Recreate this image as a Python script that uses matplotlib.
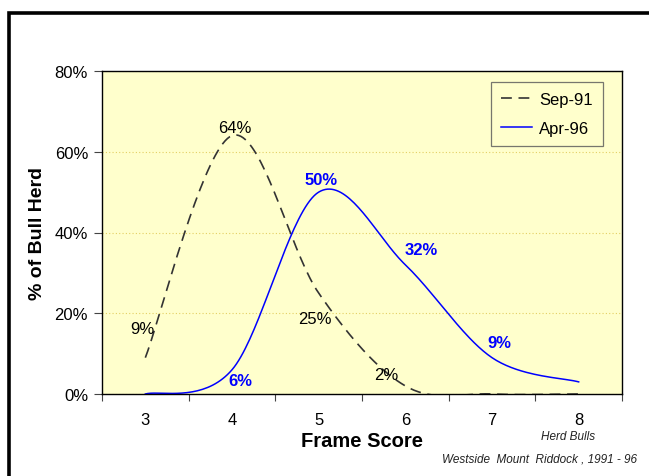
import numpy as np
import matplotlib
matplotlib.use('Agg')
import matplotlib.pyplot as plt
from matplotlib.patches import Rectangle

plt.rcParams['font.family'] = ['Liberation Sans', 'DejaVu Sans']

# chart data
frame_scores = [3, 4, 5, 6, 7, 8]
sep91 = [9, 64, 25, 2, 0, 0]
apr96 = [0, 6, 50, 32, 9, 3]

# which points get a label, and where (offset in pixels)
sep91_labels = {0: (-3, 29), 1: (3, 8), 2: (-4, -25), 3: (-19, 11)}
apr96_labels = {1: (8, -11), 2: (2, 13), 3: (16, 15), 4: (7, 15)}


# Excel-style smoothed line (bezier through the points)
def smooth(xs, ys, n=40):
    pts = np.column_stack([xs, ys]).astype(float)
    out = []
    for i in range(len(pts) - 1):
        p0 = pts[i - 1] if i > 0 else pts[i]
        p1 = pts[i]
        p2 = pts[i + 1]
        p3 = pts[i + 2] if i + 2 < len(pts) else pts[i + 1]
        c1 = p1 + (p2 - p0) / 6.0
        c2 = p2 - (p3 - p1) / 6.0
        t = np.linspace(0, 1, n)[:, None]
        seg = ((1 - t) ** 3) * p1 + 3 * ((1 - t) ** 2) * t * c1 + 3 * (1 - t) * t ** 2 * c2 + t ** 3 * p2
        out.append(seg if i == 0 else seg[1:])
    out = np.vstack(out)
    return out[:, 0], out[:, 1]


fig = plt.figure(figsize=(6.49, 4.77), dpi=100)
ax = fig.add_axes([102 / 649, 1 - 395 / 477, 520 / 649, 323 / 477])
ax.set_facecolor('#FFFFCC')

sx, sy = smooth(frame_scores, sep91)
ax.plot(sx, sy, color='#333333', lw=1.2, dashes=(6.5, 4), label='Sep-91')
ax.plot(*smooth(frame_scores, apr96), color='#0000FF', lw=1.1, label='Apr-96')

for i, (dx, dy) in sep91_labels.items():
    ax.annotate(f'{sep91[i]}%', (frame_scores[i], sep91[i]), xytext=(dx * 0.72, dy * 0.72),
                textcoords='offset points', ha='center', va='center', fontsize=12, color='black')
for i, (dx, dy) in apr96_labels.items():
    ax.annotate(f'{apr96[i]}%', (frame_scores[i], apr96[i]), xytext=(dx * 0.72, dy * 0.72),
                textcoords='offset points', ha='center', va='center', fontsize=12,
                color='#0000FF', fontweight='bold')

ax.set_xlim(2.5, 8.5)
ax.set_ylim(0, 80)
ax.set_xticks(np.arange(2.5, 9, 1))
ax.set_xticklabels([])
ax.set_xticks(frame_scores, minor=True)
ax.set_xticklabels([str(f) for f in frame_scores], minor=True, fontsize=12)
ax.tick_params(axis='x', which='minor', length=0, pad=13)
ax.tick_params(axis='x', which='major', length=5, direction='out', color='#444444')
ax.set_yticks([0, 20, 40, 60, 80])
ax.set_yticklabels([f'{v}%' for v in [0, 20, 40, 60, 80]], fontsize=12)
ax.tick_params(axis='y', length=6, direction='out', pad=4, color='#444444')
ax.yaxis.grid(True, color='#E3CF63', lw=0.8, ls=(0, (1, 2)))
ax.set_axisbelow(True)
for s in ax.spines.values():
    s.set_color('black')
    s.set_linewidth(1.0)

ax.set_xlabel('Frame Score', fontsize=14.5, fontweight='bold', labelpad=3)
ax.set_ylabel('% of Bull Herd', fontsize=14, fontweight='bold', labelpad=6)

leg = ax.legend(loc='upper right', bbox_to_anchor=(0.963, 0.966), borderaxespad=0,
                fontsize=12, frameon=True, fancybox=False, handlelength=1.9,
                borderpad=0.6, labelspacing=0.85, handletextpad=0.4)
leg.get_frame().set_facecolor('#FFFFCC')
leg.get_frame().set_edgecolor('#555555')
leg.get_frame().set_linewidth(0.9)

fig.text(568 / 649, 1 - 437 / 477, 'Herd Bulls', fontsize=8.5, style='italic',
         ha='center', va='center', color='#222222')
fig.text(637 / 649, 1 - 460 / 477, 'Westside  Mount  Riddock , 1991 - 96', fontsize=8.5,
         style='italic', ha='right', va='center', color='#222222')

# outer frame (cut off at the right and bottom)
fig.add_artist(Rectangle((8.5 / 649, -0.2), 1.5, 1.2 - 14 / 477, transform=fig.transFigure,
                         fill=False, lw=2.6, edgecolor='black', clip_on=False))

fig.savefig('out.png', dpi=100, facecolor='white')
